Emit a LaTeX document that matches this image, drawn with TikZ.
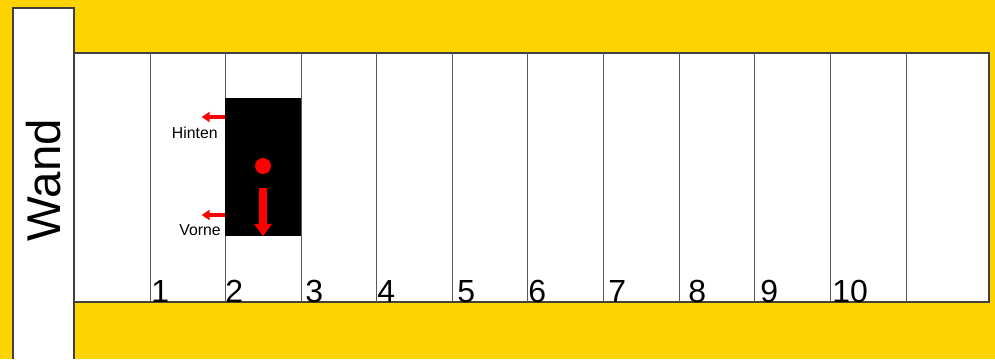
\documentclass[tikz,border=0pt]{standalone}
\usepackage{fontspec}
\setmainfont{Liberation Sans}
\usepackage{tikz}
\usetikzlibrary{arrows.meta,positioning}
\definecolor{gelb}{HTML}{FDD400}

\begin{document}
\begin{tikzpicture}[
        x=0.02cm, y=-0.02cm,
        % Styles für die Bahnen und Beschriftungen
        frame/.style={draw=black!75, line width=0.6pt},
        lane/.style={draw=black!65, line width=0.5pt},
        num/.style={inner sep=0pt, anchor=base west, font=\fontsize{18.2pt}{19pt}\selectfont},
        % das Auto (schwarzer Block) und die roten Marker
        block/.style={rectangle, fill=black, inner sep=0pt, minimum width=1.52cm, minimum height=2.76cm},
        dot/.style={circle, fill=red, inner sep=0pt, minimum size=0.32cm},
        bigarrow/.style={red, line width=0.16cm, -{Triangle[width=0.34cm,length=0.25cm]}},
        smallarrow/.style={red, line width=0.08cm, -{Triangle[width=0.2cm,length=0.16cm]}},
        side/.style={inner sep=0pt, anchor=base east, font=\fontsize{9pt}{10pt}\selectfont}
    ]
        \useasboundingbox (0,0) rectangle (995,359);
        \fill[gelb] (0,0) rectangle (995,359);

        % 1. Wand links
        \fill[white] (13,8) rectangle (74,359);
        \draw[frame] (13,359) -- (13,8) -- (74,8) -- (74,359);
        \node[rotate=90, inner sep=0pt, font=\fontsize{27pt}{28pt}\selectfont] (wand) at (44,180) {Wand};

        % 2. Bahnen mit Nummern
        \draw[frame, fill=white] (74,53) rectangle (989,302);
        \foreach \x in {150, 225, 301, 376, 452, 527, 603, 679, 754, 830, 906}
            \draw[lane] (\x,53) -- (\x,302);
        \foreach \x/\n in {151/1, 225/2, 305/3, 377/4, 457/5, 528/6, 608/7, 688/8, 760/9, 832/10}
            \node[num] (n\n) at (\x,302) {\n};

        % 3. Auto in Bahn 2
        \node[block] (car) at (263,167) {};
        \node[dot] (head) at (263,166) {};
        \coordinate (tail) at (263,188);
        \draw[bigarrow] (tail) -- (car.south);

        % 4. Hinten / Vorne
        \path (car.west) ++(0,-50) coordinate (h1);
        \path (h1) ++(-23,0) coordinate (h2);
        \path (car.west) ++(0,48) coordinate (v1);
        \path (v1) ++(-23,0) coordinate (v2);
        \draw[smallarrow] (h1) -- (h2);
        \draw[smallarrow] (v1) -- (v2);
        \node[side] (hinten) at (218,138) {Hinten};
        \node[side] (vorne) at (221,235) {Vorne};

    \end{tikzpicture}
\end{document}
